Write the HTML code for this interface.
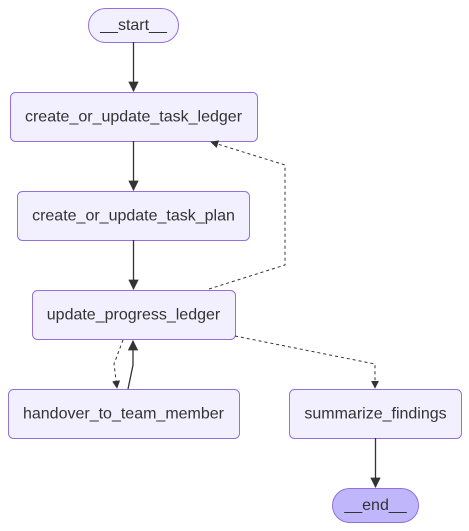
<!DOCTYPE html>
<html><head><style>body{margin:0;background:#fff}svg{display:block}text{font-family:"Liberation Sans",Arial,sans-serif;font-size:16px;fill:#333;text-anchor:middle;dominant-baseline:central}</style></head><body>
<svg width="469" height="531" viewBox="0 0 469 531">
<defs><marker id="a" viewBox="0 0 10 10" refX="9" refY="5" markerWidth="8" markerHeight="8" orient="auto"><path d="M0,0L10,5L0,10z" fill="#333"/></marker></defs>
<g fill="#f2f0ff" stroke="#9370db" stroke-width="1">
<rect x="88.5" y="8.5" width="90" height="34" rx="17"/>
<rect x="10.5" y="92.5" width="247" height="49" rx="5"/>
<rect x="17.5" y="191.5" width="232" height="49" rx="5"/>
<rect x="32.5" y="290.5" width="203" height="49" rx="5"/>
<rect x="8.5" y="389.5" width="231" height="49" rx="5"/>
<rect x="289.5" y="389.5" width="172" height="49" rx="5"/>
<rect x="332.5" y="488.5" width="86" height="34" rx="17" fill="#bfb6fc"/>
</g>
<g stroke="#333" stroke-width="1.3" fill="none">
<path d="M133.5,42V91" marker-end="url(#a)"/>
<path d="M133.5,141V190" marker-end="url(#a)"/>
<path d="M133.5,240V289" marker-end="url(#a)"/>
<path d="M128,389L133,365V341" marker-end="url(#a)"/>
<path d="M375.5,438V487" marker-end="url(#a)"/>
</g>
<g stroke="#333" stroke-width="1" fill="none" stroke-dasharray="3,3">
<path d="M209,289L285,265V165L211,142" marker-end="url(#a)"/>
<path d="M123,340L114,364L117,388" marker-end="url(#a)"/>
<path d="M235,336L375,364V388" marker-end="url(#a)"/>
</g>
<text x="133.5" y="25.5">__start__</text>
<text x="133.5" y="117">create_or_update_task_ledger</text>
<text x="133.5" y="216">create_or_update_task_plan</text>
<text x="133.5" y="315">update_progress_ledger</text>
<text x="123.5" y="414">handover_to_team_member</text>
<text x="375.5" y="414">summarize_findings</text>
<text x="375.5" y="505.5">__end__</text>
</svg>
</body></html>
